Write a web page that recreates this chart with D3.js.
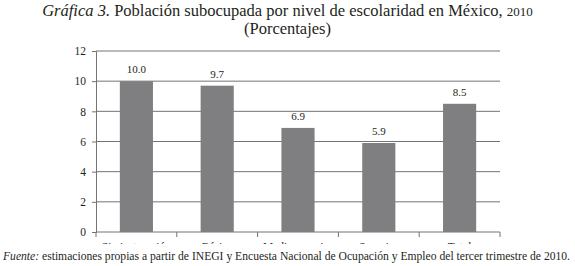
<!DOCTYPE html>
<html>
<head>
<meta charset="utf-8">
<script src="https://cdn.jsdelivr.net/npm/d3@7"></script>
<style>
  body { margin: 0; background: #fff; }
</style>
</head>
<body>
<div id="chart"></div>
<script>
// data
const categories = ["Sin instrucción", "Básica", "Media superior", "Superior", "Total"];
const values = [10.0, 9.7, 6.9, 5.9, 8.5];
const yTicks = [0, 2, 4, 6, 8, 10, 12];

const width = 575;
const height = 266;
const margin = { top: 51, right: 75, bottom: 34, left: 96 };
const ink = "#231f20";
const font = "Liberation Serif";
const lineColor = "#747474";

const svg = d3
  .select("#chart")
  .append("svg")
  .attr("width", width)
  .attr("height", height)
  .attr("font-family", font);

// scales
const x = d3
  .scaleBand()
  .domain(categories)
  .range([margin.left, width - margin.right])
  .paddingInner(0.59)
  .paddingOuter(0.295);

const y = d3
  .scaleLinear()
  .domain([0, 12])
  .range([height - margin.bottom, margin.top]);

// title
const title = svg
  .append("text")
  .attr("x", width / 2)
  .attr("y", 16)
  .attr("text-anchor", "middle")
  .attr("font-family", font)
  .attr("font-size", 16.5)
  .attr("fill", ink);
title.append("tspan").attr("font-style", "italic").text("Gráfica 3.");
title.append("tspan").text(" Población subocupada por nivel de escolaridad en México, ");
title.append("tspan").attr("font-size", 13).text("2010");

svg
  .append("text")
  .attr("x", width / 2)
  .attr("y", 34)
  .attr("text-anchor", "middle")
  .attr("font-family", font)
  .attr("font-size", 16.5)
  .attr("fill", ink)
  .text("(Porcentajes)");

// gridlines
svg
  .append("g")
  .selectAll("line")
  .data(yTicks.filter((d) => d > 0))
  .join("line")
  .attr("x1", margin.left)
  .attr("x2", width - margin.right)
  .attr("y1", (d) => y(d))
  .attr("y2", (d) => y(d))
  .attr("stroke", lineColor)
  .attr("stroke-width", 1);

// y axis
const yAxis = svg
  .append("g")
  .attr("transform", `translate(${margin.left},0)`)
  .call(d3.axisLeft(y).tickValues(yTicks).tickSize(4).tickPadding(6).tickFormat(d3.format("d")));
yAxis.attr("font-family", font).attr("font-size", 11.5);
yAxis.select(".domain").attr("stroke", lineColor);
yAxis.selectAll(".tick line").attr("stroke", lineColor);
yAxis.selectAll("text").attr("fill", ink);

// x axis line with ticks at band edges
const baseY = y(0);
svg
  .append("line")
  .attr("x1", margin.left)
  .attr("x2", width - margin.right)
  .attr("y1", baseY)
  .attr("y2", baseY)
  .attr("stroke", lineColor);

const edges = categories.map((c) => x(c) - (x.step() * x.paddingInner()) / 2);
edges.push(width - margin.right);
svg
  .append("g")
  .selectAll("line")
  .data(edges)
  .join("line")
  .attr("x1", (d) => d)
  .attr("x2", (d) => d)
  .attr("y1", baseY)
  .attr("y2", baseY + 5)
  .attr("stroke", lineColor);

// bars
svg
  .append("g")
  .selectAll("rect")
  .data(values)
  .join("rect")
  .attr("x", (d, i) => x(categories[i]))
  .attr("width", x.bandwidth())
  .attr("y", (d) => y(d))
  .attr("height", (d) => baseY - y(d))
  .attr("fill", "#7f7f81");

// value labels
svg
  .append("g")
  .selectAll("text")
  .data(values)
  .join("text")
  .attr("x", (d, i) => x(categories[i]) + x.bandwidth() / 2)
  .attr("y", (d) => y(d) - 8)
  .attr("text-anchor", "middle")
  .attr("font-family", font)
  .attr("font-size", 11)
  .attr("fill", ink)
  .text((d) => d.toFixed(1));

// category labels, cut off by the footnote like in the original
svg
  .append("clipPath")
  .attr("id", "cut")
  .append("rect")
  .attr("x", 0)
  .attr("y", 0)
  .attr("width", width)
  .attr("height", 244);

svg
  .append("g")
  .attr("clip-path", "url(#cut)")
  .selectAll("text")
  .data(categories)
  .join("text")
  .attr("x", (d) => x(d) + x.bandwidth() / 2)
  .attr("y", 250.5)
  .attr("text-anchor", "middle")
  .attr("font-family", font)
  .attr("font-size", 11.5)
  .attr("fill", ink)
  .text((d) => d);

// footnote
const foot = svg
  .append("text")
  .attr("x", 3)
  .attr("y", 260)
  .attr("font-family", font)
  .attr("font-size", 12)
  .attr("fill", ink)
  .attr("textLength", 567)
  .attr("lengthAdjust", "spacingAndGlyphs");
foot.append("tspan").attr("font-style", "italic").text("Fuente:");
foot
  .append("tspan")
  .text(" estimaciones propias a partir de INEGI y Encuesta Nacional de Ocupación y Empleo del tercer trimestre de 2010.");
</script>
</body>
</html>
